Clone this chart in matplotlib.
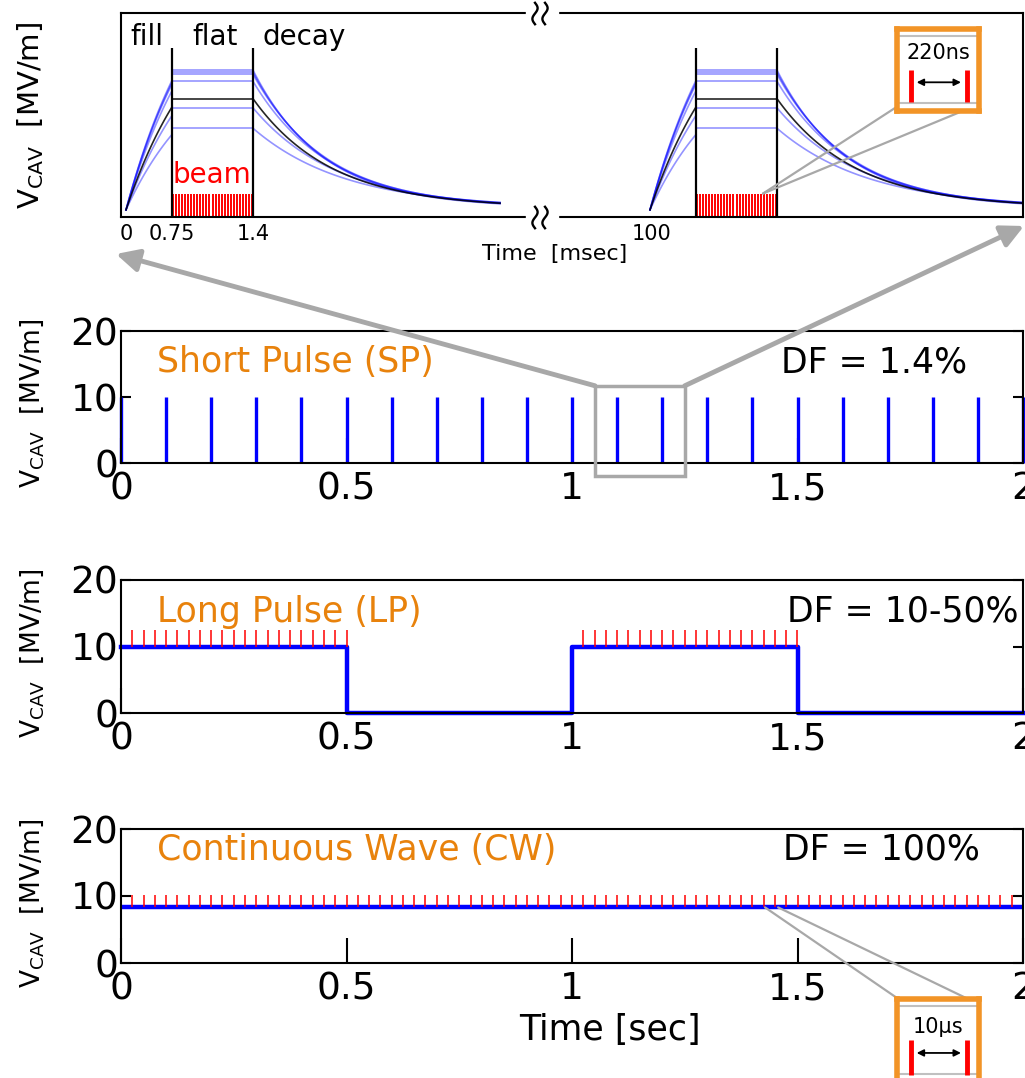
import numpy as np
import matplotlib.pyplot as plt
from matplotlib.patches import Rectangle, ConnectionPatch

# ---------------- data ----------------
# zoomed pulse panel (schematic time axis, field in MV/m)
pulse_starts = [5, 529]
fill_len, flat_len, decay_len = 46, 81, 247
flat_levels = [14.4, 14.2, 14.0, 13.3, 10.7, 8.7]
decay_taus = [70, 72, 74, 76, 84, 92]
black_level, black_tau = 11.6, 78
v_start, v_base, fill_ratio = 0.7, 0.9, 0.93
zoom_ticks = [5, 51, 132, 531]
zoom_ticklabels = ['0', '0.75', '1.4', '100']
beam_top, gate_top = 2.3, 16.6
n_beam_lines = 27
break_x = [414, 424]

# short pulse
sp_times = [0, 0.1, 0.2, 0.3, 0.4, 0.5, 0.6, 0.7, 0.8, 0.9, 1.0,
            1.1, 1.2, 1.3, 1.4, 1.5, 1.6, 1.7, 1.8, 1.9, 2.0]
sp_level = 10

# long pulse
lp_t = [0, 0.5, 1.0, 1.5, 2.0]
lp_v = [10, 0, 10, 0, 0]
lp_windows = [(0.0, 0.5), (1.0, 1.5)]
lp_tick_top = 12.5

# continuous wave
cw_level = 8.3
cw_tick_top = 10.2
bunch_spacing = 0.025

xticks = [0, 0.5, 1, 1.5, 2]
xticklabels = ['0', '0.5', '1', '1.5', '2']
yticks = [0, 10, 20]

ORANGE_TXT = '#e8820c'
ORANGE_BOX = '#f29427'
GREY = '#a8a8a8'
ylab = r'$\mathregular{V_{CAV}}$  [MV/m]'

fig = plt.figure(figsize=(10.25, 10.78), dpi=100)
W, H = 1025, 1078


def rect(x0, top, x1, bottom):
    return [x0 / W, (H - bottom) / H, (x1 - x0) / W, (bottom - top) / H]


# ---------------- top: zoom on two pulses ----------------
ax0 = fig.add_axes(rect(121, 13, 1023, 217))
ax0.set_xlim(0, 902)
ax0.set_ylim(0, 20)
for sp in ax0.spines.values():
    sp.set_linewidth(1.5)

for s in pulse_starts:
    t_fill = np.linspace(0, fill_len, 40)
    t_dec = np.linspace(0, decay_len, 120)
    fe, de = s + fill_len, s + fill_len + flat_len
    levels = flat_levels + [black_level]
    taus = decay_taus + [black_tau]
    for i, (L, tau) in enumerate(zip(levels, taus)):
        black = i == len(levels) - 1
        col = 'k' if black else 'blue'
        al = 0.85 if black else 0.42
        a = 0.6
        fill = v_start + (fill_ratio * L - v_start) * (1 - np.exp(-a * t_fill / fill_len)) / (1 - np.exp(-a))
        dec = v_base + (L - v_base) * np.exp(-t_dec / tau)
        ax0.plot(s + t_fill, fill, color=col, alpha=al, lw=1.2)
        ax0.plot([fe, de], [L, L], color=col, alpha=al, lw=1.2)
        ax0.plot(de + t_dec, dec, color=col, alpha=al, lw=1.2)
    ax0.vlines(np.linspace(fe + 1, de - 1, n_beam_lines), 0, beam_top, color='red', lw=1.4)
    ax0.vlines([fe, de], 0, gate_top, color='k', lw=1.6, zorder=5)

ax0.text(9, 17.6, 'fill', fontsize=20, va='center')
ax0.text(71, 17.6, 'flat', fontsize=20, va='center')
ax0.text(142, 17.6, 'decay', fontsize=20, va='center')
ax0.text(91, 4.1, 'beam', fontsize=20, color='red', ha='center', va='center')

ax0.set_xticks(zoom_ticks)
ax0.set_xticklabels(zoom_ticklabels, fontsize=15)
ax0.set_yticks([])
ax0.tick_params(axis='x', length=0, pad=5)
ax0.set_xlabel('Time  [msec]', fontsize=16)
ax0.xaxis.set_label_coords(0.481, -0.13)
ax0.set_ylabel(ylab, fontsize=21)
ax0.yaxis.set_label_coords(-0.083, 0.5)

# axis break marks
s_ = np.linspace(0, 1, 40)
for yb in [0, 20]:
    ax0.add_patch(Rectangle((405, yb - 0.3), 32, 0.6, color='white', clip_on=False, zorder=6))
    for xb in break_x:
        ax0.plot(xb + 2.6 * np.sin(2 * np.pi * s_), yb + 1.0 - 2.1 * s_, color='k', lw=1.7,
                 clip_on=False, zorder=7)


def style(ax):
    ax.set_xlim(0, 2)
    ax.set_ylim(0, 20)
    ax.set_xticks(xticks)
    ax.set_xticklabels(xticklabels)
    ax.set_yticks(yticks)
    ax.tick_params(axis='both', labelsize=27)
    ax.tick_params(axis='x', direction='in', length=18, width=1.5, pad=6, top=False)
    ax.tick_params(axis='y', direction='in', length=7, width=1.5, pad=2, right=True)
    for sp in ax.spines.values():
        sp.set_linewidth(1.5)
    ax.set_ylabel(ylab, fontsize=19)
    ax.yaxis.set_label_coords(-0.083, 0.45)


# ---------------- short pulse ----------------
ax1 = fig.add_axes(rect(121, 331, 1023, 463))
ax1.vlines(sp_times, 0, sp_level, color='blue', lw=2.4, clip_on=False)
style(ax1)
ax1.text(0.08, 15.3, 'Short Pulse (SP)', color=ORANGE_TXT, fontsize=25, va='center')
ax1.text(1.876, 15.3, 'DF = 1.4%', fontsize=25, va='center', ha='right')
ax1.add_patch(Rectangle((1.051, -2.0), 0.199, 13.7, fill=False, ec=GREY, lw=2.5,
                        clip_on=False, zorder=6))

# ---------------- long pulse ----------------
ax2 = fig.add_axes(rect(121, 580, 1023, 713))
ax2.step(lp_t, lp_v, where='post', color='blue', lw=3.2, clip_on=False)
for a, b in lp_windows:
    ax2.vlines(np.arange(a + bunch_spacing, b + 1e-9, bunch_spacing), lp_v[0], lp_tick_top,
               color='red', lw=1.1)
style(ax2)
ax2.text(0.08, 15.2, 'Long Pulse (LP)', color=ORANGE_TXT, fontsize=25, va='center')
ax2.text(1.99, 15.2, 'DF = 10-50%', fontsize=25, va='center', ha='right')

# ---------------- continuous wave ----------------
ax3 = fig.add_axes(rect(121, 829, 1023, 963))
ax3.axhline(cw_level, color='blue', lw=3.2)
ax3.vlines(np.arange(bunch_spacing, 2 + 1e-9, bunch_spacing), cw_level, cw_tick_top,
           color='red', lw=1.1)
style(ax3)
ax3.text(0.08, 16.9, 'Continuous Wave (CW)', color=ORANGE_TXT, fontsize=25, va='center')
ax3.text(1.905, 16.9, 'DF = 100%', fontsize=25, va='center', ha='right')
ax3.set_xlabel('Time [sec]', fontsize=25)
ax3.xaxis.set_label_coords(0.542, -0.37)

# ---------------- gray zoom arrows ----------------
for xy0, xy1 in [((1.051, 11.7), (116 / W, 1 - 254 / H)), ((1.25, 11.7), (1024 / W, 1 - 226 / H))]:
    ax1.annotate('', xy=xy1, xycoords='figure fraction', xytext=xy0, textcoords='data',
                 arrowprops=dict(arrowstyle='-|>', color=GREY, lw=3.5, mutation_scale=34,
                                 shrinkA=0, shrinkB=0), annotation_clip=False)


# ---------------- inset boxes ----------------
def inset(box, label, y_txt, y_bar, y_arrow):
    bx = fig.add_axes(box, zorder=10)
    bx.set_xlim(0, 1)
    bx.set_ylim(0, 1)
    bx.set_xticks([])
    bx.set_yticks([])
    for sp in bx.spines.values():
        sp.set_color(ORANGE_BOX)
        sp.set_linewidth(4)
    bx.hlines([0.1, 0.92], 0.03, 0.97, color='#c0c0c0', lw=1.5)
    bx.text(0.5, y_txt, label, ha='center', va='center', fontsize=15)
    bx.vlines([0.17, 0.85], y_bar[0], y_bar[1], color='red', lw=3.5)
    bx.annotate('', xy=(0.78, y_arrow), xytext=(0.24, y_arrow),
                arrowprops=dict(arrowstyle='<|-|>', color='k', lw=1.3, mutation_scale=10,
                                shrinkA=0, shrinkB=0))
    return bx


inset(rect(897, 29, 979, 111), '220ns', 0.71, (0.11, 0.5), 0.35)
inset(rect(897, 999, 979, 1082), '10\u03bcs', 0.66, (0.08, 0.51), 0.35)

# connector lines to the insets
for xa, xb, yb in [(642, 895, 108), (642, 965, 110)]:
    fig.add_artist(ConnectionPatch(xyA=(xa, beam_top), coordsA=ax0.transData,
                                   xyB=(xb / W, 1 - yb / H), coordsB=fig.transFigure,
                                   color=GREY, lw=1.6))
for xa, xb in [(1.428, 897), (1.457, 966)]:
    fig.add_artist(ConnectionPatch(xyA=(xa, cw_level), coordsA=ax3.transData,
                                   xyB=(xb / W, 1 - 998 / H), coordsB=fig.transFigure,
                                   color=GREY, lw=1.6))

fig.savefig('out.png', dpi=100)
